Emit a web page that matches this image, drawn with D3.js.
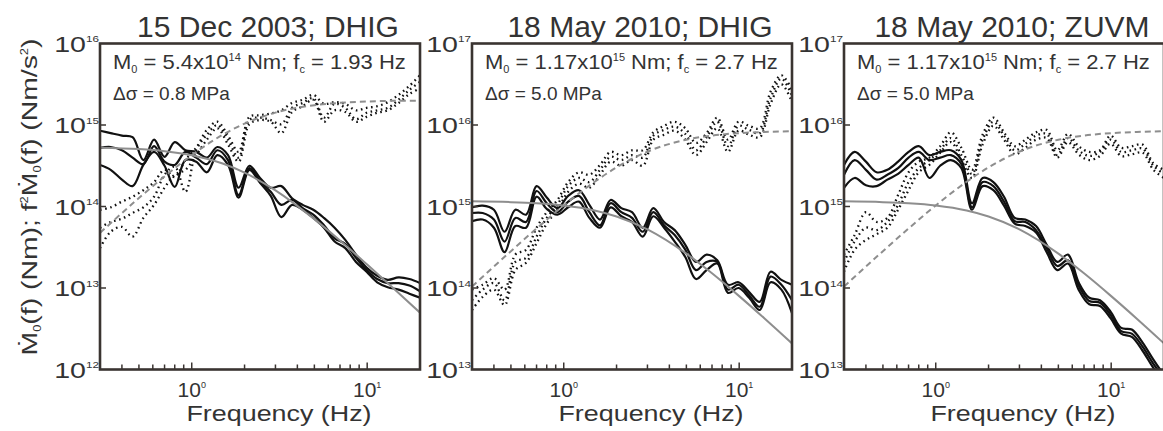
<!DOCTYPE html>
<html lang="en">
<head>
<script src="https://d3js.org/d3.v7.min.js"></script>
<style>
body { margin: 0; background: #fff; }
svg text { font-family: "Liberation Sans", Arial, sans-serif; fill: #333; }
</style>
</head>
<body>
<script>
// frequency grid (Hz) shared by the observed spectra
const freqs = [0.30, 0.345, 0.40, 0.46, 0.53, 0.61, 0.70, 0.80, 0.92, 1.06, 1.22, 1.40, 1.61, 1.85, 2.13,
  2.45, 2.82, 3.24, 3.73, 4.29, 4.93, 5.67, 6.52, 7.50, 8.63, 9.92, 11.4, 13.1, 15.1, 17.4, 20.0];

// observed spectra, log10 of the amplitude, three components each
// 15 Dec 2003, DHIG : source spectrum (Nm)
const dec03SrcA = [14.93, 14.90, 14.87, 14.85, 14.57, 14.82, 14.61, 14.79, 14.69, 14.67, 14.60, 14.73, 14.63, 14.23, 14.50, 14.35, 14.23, 14.25, 14.10, 14.02, 13.96, 13.86, 13.74, 13.59, 13.41, 13.25, 13.15, 13.10, 13.13, 13.11, 13.06];
const dec03SrcB = [14.72, 14.73, 14.69, 14.60, 14.52, 14.74, 14.55, 14.51, 14.67, 14.60, 14.52, 14.69, 14.57, 14.14, 14.47, 14.31, 14.18, 14.02, 14.08, 13.98, 13.90, 13.77, 13.61, 13.54, 13.37, 13.22, 13.11, 13.06, 13.06, 13.03, 12.96];
const dec03SrcC = [14.51, 14.45, 14.33, 14.25, 14.51, 14.67, 14.50, 14.24, 14.57, 14.55, 14.42, 14.63, 14.51, 14.11, 14.45, 14.29, 14.13, 13.87, 14.02, 13.96, 13.86, 13.74, 13.57, 13.49, 13.32, 13.20, 13.07, 13.01, 12.98, 12.93, 12.88];
// 15 Dec 2003, DHIG : f^2 spectrum (Nm/s^2)
const dec03AccA = [13.96, 13.99, 14.06, 14.12, 14.20, 14.30, 14.45, 14.36, 14.57, 14.72, 14.94, 15.04, 14.87, 14.67, 15.10, 15.12, 15.14, 15.18, 15.27, 15.31, 15.37, 15.26, 15.28, 15.26, 15.18, 15.21, 15.23, 15.28, 15.37, 15.48, 15.61];
const dec03AccB = [13.74, 13.81, 13.85, 13.92, 13.99, 14.12, 14.39, 14.49, 14.18, 14.69, 14.88, 15.00, 14.82, 14.60, 15.06, 15.09, 15.06, 15.01, 15.21, 15.27, 15.33, 15.09, 15.26, 15.21, 15.07, 15.15, 15.18, 15.21, 15.31, 15.43, 15.53];
const dec03AccC = [13.49, 13.69, 13.75, 13.63, 13.86, 14.02, 14.23, 14.39, 14.45, 14.63, 14.82, 14.96, 14.76, 14.55, 15.01, 15.06, 15.04, 14.90, 15.16, 15.23, 15.31, 15.04, 15.18, 15.16, 15.04, 15.10, 15.15, 15.18, 15.27, 15.38, 15.45];

// 18 May 2010, DHIG
const may10dSrcA = [14.99, 15.01, 14.96, 14.69, 14.96, 14.90, 15.25, 15.11, 14.98, 15.13, 15.20, 15.02, 14.84, 15.08, 14.98, 14.93, 14.74, 14.98, 14.81, 14.71, 14.53, 14.32, 14.41, 14.34, 14.04, 14.07, 13.95, 13.83, 14.20, 14.10, 14.04];
const may10dSrcB = [14.92, 14.92, 14.84, 14.57, 14.86, 14.81, 15.19, 15.04, 14.93, 15.06, 15.13, 14.93, 14.77, 15.04, 14.93, 14.86, 14.69, 14.93, 14.77, 14.65, 14.47, 14.22, 14.32, 14.32, 13.98, 14.04, 13.91, 13.77, 14.14, 14.04, 13.85];
const may10dSrcC = [14.82, 14.84, 14.74, 14.44, 14.76, 14.74, 15.12, 14.97, 14.90, 14.99, 15.06, 14.86, 14.74, 14.99, 14.88, 14.81, 14.63, 14.88, 14.74, 14.57, 14.38, 14.11, 14.22, 14.30, 13.94, 14.00, 13.88, 13.73, 14.07, 13.98, 13.69];
const may10dAccA = [13.98, 14.04, 14.12, 13.98, 14.41, 14.47, 14.74, 14.93, 15.08, 15.30, 15.42, 15.39, 15.51, 15.67, 15.63, 15.69, 15.69, 15.91, 15.99, 16.04, 15.96, 15.78, 15.90, 16.09, 15.82, 16.04, 15.99, 15.96, 16.41, 16.61, 16.43];
const may10dAccB = [13.85, 13.98, 14.06, 13.85, 14.32, 14.37, 14.63, 14.86, 15.02, 15.25, 15.35, 15.30, 15.45, 15.61, 15.57, 15.63, 15.60, 15.87, 15.94, 15.98, 15.89, 15.69, 15.85, 16.04, 15.74, 15.99, 15.94, 15.90, 16.33, 16.57, 16.36];
const may10dAccC = [13.73, 13.89, 13.98, 13.79, 14.22, 14.31, 14.55, 14.79, 14.96, 15.18, 15.28, 15.23, 15.39, 15.55, 15.50, 15.57, 15.50, 15.82, 15.88, 15.93, 15.82, 15.63, 15.79, 15.96, 15.67, 15.93, 15.88, 15.85, 16.26, 16.50, 16.28];

// 18 May 2010, ZUVM
const may10zSrcA = [15.51, 15.67, 15.55, 15.42, 15.45, 15.55, 15.67, 15.74, 15.63, 15.67, 15.69, 15.57, 15.04, 15.35, 15.30, 15.12, 14.86, 14.84, 14.76, 14.53, 14.32, 14.41, 14.07, 13.88, 13.85, 13.71, 13.51, 13.49, 13.33, 13.12, 12.93];
const may10zSrcB = [15.39, 15.57, 15.45, 15.33, 15.39, 15.47, 15.60, 15.67, 15.57, 15.60, 15.63, 15.52, 14.99, 15.30, 15.25, 15.06, 14.82, 14.81, 14.71, 14.49, 14.27, 14.34, 14.03, 13.84, 13.82, 13.67, 13.47, 13.44, 13.28, 13.07, 12.90];
const may10zSrcC = [15.23, 15.35, 15.26, 15.25, 15.33, 15.40, 15.51, 15.60, 15.35, 15.50, 15.57, 15.47, 14.96, 15.25, 15.20, 15.01, 14.79, 14.76, 14.68, 14.44, 14.22, 14.30, 13.98, 13.80, 13.78, 13.63, 13.44, 13.40, 13.23, 13.02, 12.85];
const may10zAccA = [14.41, 14.65, 14.93, 14.81, 14.86, 15.14, 15.42, 15.55, 15.60, 15.74, 15.91, 15.72, 15.45, 15.88, 16.09, 15.91, 15.74, 15.82, 15.91, 15.94, 15.69, 15.89, 15.74, 15.67, 15.69, 15.87, 15.72, 15.74, 15.76, 15.53, 15.45];
const may10zAccB = [14.32, 14.57, 14.74, 14.71, 14.81, 15.02, 15.30, 15.47, 15.57, 15.69, 15.84, 15.63, 15.40, 15.82, 16.04, 15.87, 15.69, 15.77, 15.87, 15.89, 15.63, 15.84, 15.69, 15.62, 15.67, 15.82, 15.67, 15.69, 15.71, 15.50, 15.40];
const may10zAccC = [14.20, 14.47, 14.59, 14.66, 14.74, 14.96, 15.20, 15.42, 15.51, 15.66, 15.79, 15.57, 15.35, 15.76, 15.99, 15.82, 15.64, 15.72, 15.82, 15.84, 15.60, 15.79, 15.64, 15.57, 15.62, 15.77, 15.62, 15.64, 15.66, 15.45, 15.35];

// fitted model curves (gray), read at these frequencies
const modelFreqs = [0.3, 0.5, 0.7, 1, 1.5, 2, 3, 5, 7, 10, 14, 20];
const dec03Model = [5.27e14, 5.06e14, 4.77e14, 4.26e14, 3.37e14, 2.60e14, 1.58e14, 7.0e13, 3.82e13, 1.94e13, 1.01e13, 4.98e12];
const dec03ModelAcc = [4.74e13, 1.27e14, 2.34e14, 4.26e14, 7.58e14, 1.04e15, 1.42e15, 1.75e15, 1.87e15, 1.94e15, 1.98e15, 1.99e15];
const may10Model = [1.156e15, 1.131e15, 1.096e15, 1.029e15, 8.94e14, 7.55e14, 5.24e14, 2.64e14, 1.515e14, 7.95e13, 4.20e13, 2.09e13];
const may10ModelAcc = [1.04e14, 2.83e14, 5.37e14, 1.03e15, 2.01e15, 3.02e15, 4.71e15, 6.60e15, 7.42e15, 7.95e15, 8.22e15, 8.38e15];

const titles = ["15 Dec 2003; DHIG", "18 May 2010; DHIG", "18 May 2010; ZUVM"];
const yExponents = [[12, 16], [13, 17], [13, 17]];
const moments = [["5.4", "14"], ["1.17", "15"], ["1.17", "15"]];
const cornerFreqs = ["1.93", "2.7", "2.7"];
const stressDrops = ["0.8", "5.0", "5.0"];

const panels = [
  { src: [dec03SrcA, dec03SrcB, dec03SrcC], acc: [dec03AccA, dec03AccB, dec03AccC], model: dec03Model, modelAcc: dec03ModelAcc },
  { src: [may10dSrcA, may10dSrcB, may10dSrcC], acc: [may10dAccA, may10dAccB, may10dAccC], model: may10Model, modelAcc: may10ModelAcc },
  { src: [may10zSrcA, may10zSrcB, may10zSrcC], acc: [may10zAccA, may10zAccB, may10zAccC], model: may10Model, modelAcc: may10ModelAcc }
];

// layout
const width = 1163, height = 431;
const plotW = 320, plotH = 326, plotTop = 43.5;
const firstLeft = 100, step = 372;
const boxColor = "#3a3431";
const modelColor = "#8e8e8e";

const svg = d3.select("body").append("svg")
  .attr("width", width)
  .attr("height", height);

panels.forEach((p, i) => {
  const left = firstLeft + i * step;
  const x = d3.scaleLog().domain([0.3, 20]).range([left, left + plotW]);
  const y = d3.scaleLog()
    .domain([10 ** yExponents[i][0], 10 ** yExponents[i][1]])
    .range([plotTop + plotH, plotTop]);

  svg.append("clipPath").attr("id", "clip" + i)
    .append("rect")
    .attr("x", left).attr("y", plotTop)
    .attr("width", plotW).attr("height", plotH);

  const g = svg.append("g");
  const plot = g.append("g").attr("clip-path", `url(#clip${i})`);

  const obsLine = d3.line()
    .x(d => x(d[0]))
    .y(d => y(d[1]))
    .curve(d3.curveCatmullRom.alpha(0.5));

  // dotted: f^2 spectra
  p.acc.forEach(vals => {
    plot.append("path")
      .datum(freqs.map((f, k) => [f, 10 ** vals[k]]))
      .attr("fill", "none")
      .attr("stroke", "#111")
      .attr("stroke-width", 2.3)
      .attr("stroke-dasharray", "1.6 3.6")
      .attr("d", obsLine);
  });
  // solid: source spectra
  p.src.forEach(vals => {
    plot.append("path")
      .datum(freqs.map((f, k) => [f, 10 ** vals[k]]))
      .attr("fill", "none")
      .attr("stroke", "#111")
      .attr("stroke-width", 2.2)
      .attr("d", obsLine);
  });

  const modelLine = d3.line()
    .x(d => x(d[0]))
    .y(d => y(d[1]))
    .curve(d3.curveMonotoneX);

  plot.append("path")
    .datum(modelFreqs.map((f, k) => [f, p.modelAcc[k]]))
    .attr("fill", "none")
    .attr("stroke", modelColor)
    .attr("stroke-width", 2)
    .attr("stroke-dasharray", "6 4")
    .attr("d", modelLine);

  plot.append("path")
    .datum(modelFreqs.map((f, k) => [f, p.model[k]]))
    .attr("fill", "none")
    .attr("stroke", modelColor)
    .attr("stroke-width", 2)
    .attr("d", modelLine);

  // frame
  g.append("rect")
    .attr("x", left).attr("y", plotTop)
    .attr("width", plotW).attr("height", plotH)
    .attr("fill", "none")
    .attr("stroke", boxColor)
    .attr("stroke-width", 2.6);

  // x ticks, pointing inward
  const xt = x.ticks().filter(f => f > 0.31 && f < 19.5);
  g.selectAll(null).data(xt).enter().append("line")
    .attr("x1", d => x(d)).attr("x2", d => x(d))
    .attr("y1", plotTop + plotH)
    .attr("y2", d => plotTop + plotH - (Math.abs(Math.log10(d) % 1) < 1e-9 ? 7 : 5))
    .attr("stroke", boxColor)
    .attr("stroke-width", 1.5);

  // y ticks at decades
  const decs = d3.range(yExponents[i][0], yExponents[i][1] + 1);
  g.selectAll(null).data(decs.slice(1, -1)).enter().append("line")
    .attr("x1", left).attr("x2", left + 6)
    .attr("y1", d => y(10 ** d)).attr("y2", d => y(10 ** d))
    .attr("stroke", boxColor)
    .attr("stroke-width", 1.5);

  // y tick labels
  decs.forEach(d => {
    const t = g.append("text")
      .attr("transform", `translate(${left - 1},${y(10 ** d) + 8}) scale(1.3,1)`)
      .attr("text-anchor", "end")
      .style("font-size", "22px")
      .text("10");
    t.append("tspan").attr("dy", -9.5).style("font-size", "9px").text(d);
  });

  // x tick labels
  [0, 1].forEach(d => {
    const t = g.append("text")
      .attr("x", x(10 ** d))
      .attr("y", 397)
      .attr("text-anchor", "middle")
      .style("font-size", "21px")
      .text("10");
    t.append("tspan").attr("dy", -9).style("font-size", "9px").text(d);
  });

  g.append("text")
    .attr("transform", `translate(${left + plotW / 2 + 19},421) scale(1.25,1)`)
    .attr("text-anchor", "middle")
    .style("font-size", "21.5px")
    .text("Frequency (Hz)");

  // title
  g.append("text")
    .attr("x", left + plotW / 2 + 8)
    .attr("y", 37)
    .attr("text-anchor", "middle")
    .style("font-size", "30px")
    .text(titles[i]);

  // annotation
  const a1 = g.append("text")
    .attr("transform", `translate(${left + 13},69) scale(1.1,1)`)
    .style("font-size", "20px")
    .text("M");
  a1.append("tspan").attr("dy", 4).style("font-size", "10px").text("0");
  a1.append("tspan").attr("dy", -4).text(` = ${moments[i][0]}x10`);
  a1.append("tspan").attr("dy", -8).style("font-size", "10px").text(moments[i][1]);
  a1.append("tspan").attr("dy", 8).text(" Nm; f");
  a1.append("tspan").attr("dy", 4).style("font-size", "10px").text("c");
  a1.append("tspan").attr("dy", -4).text(` = ${cornerFreqs[i]} Hz`);

  g.append("text")
    .attr("x", left + 13)
    .attr("y", 100)
    .style("font-size", "19px")
    .text(`\u0394\u03c3 = ${stressDrops[i]} MPa`);
});

// shared y-axis label
const yl = svg.append("text")
  .attr("transform", "translate(37,197) rotate(-90) scale(1.29,1)")
  .attr("text-anchor", "middle")
  .style("font-size", "22px")
  .text("\u1e40");
yl.append("tspan").attr("dy", 4).style("font-size", "10px").text("0");
yl.append("tspan").attr("dy", -4).text("(f) (Nm); f");
yl.append("tspan").attr("dy", -9).style("font-size", "10px").text("2");
yl.append("tspan").attr("dy", 9).text("\u1e40");
yl.append("tspan").attr("dy", 4).style("font-size", "10px").text("0");
yl.append("tspan").attr("dy", -4).text("(f) (Nm/s");
yl.append("tspan").attr("dy", -9).style("font-size", "10px").text("2");
yl.append("tspan").attr("dy", 9).text(")");
</script>
</body>
</html>
